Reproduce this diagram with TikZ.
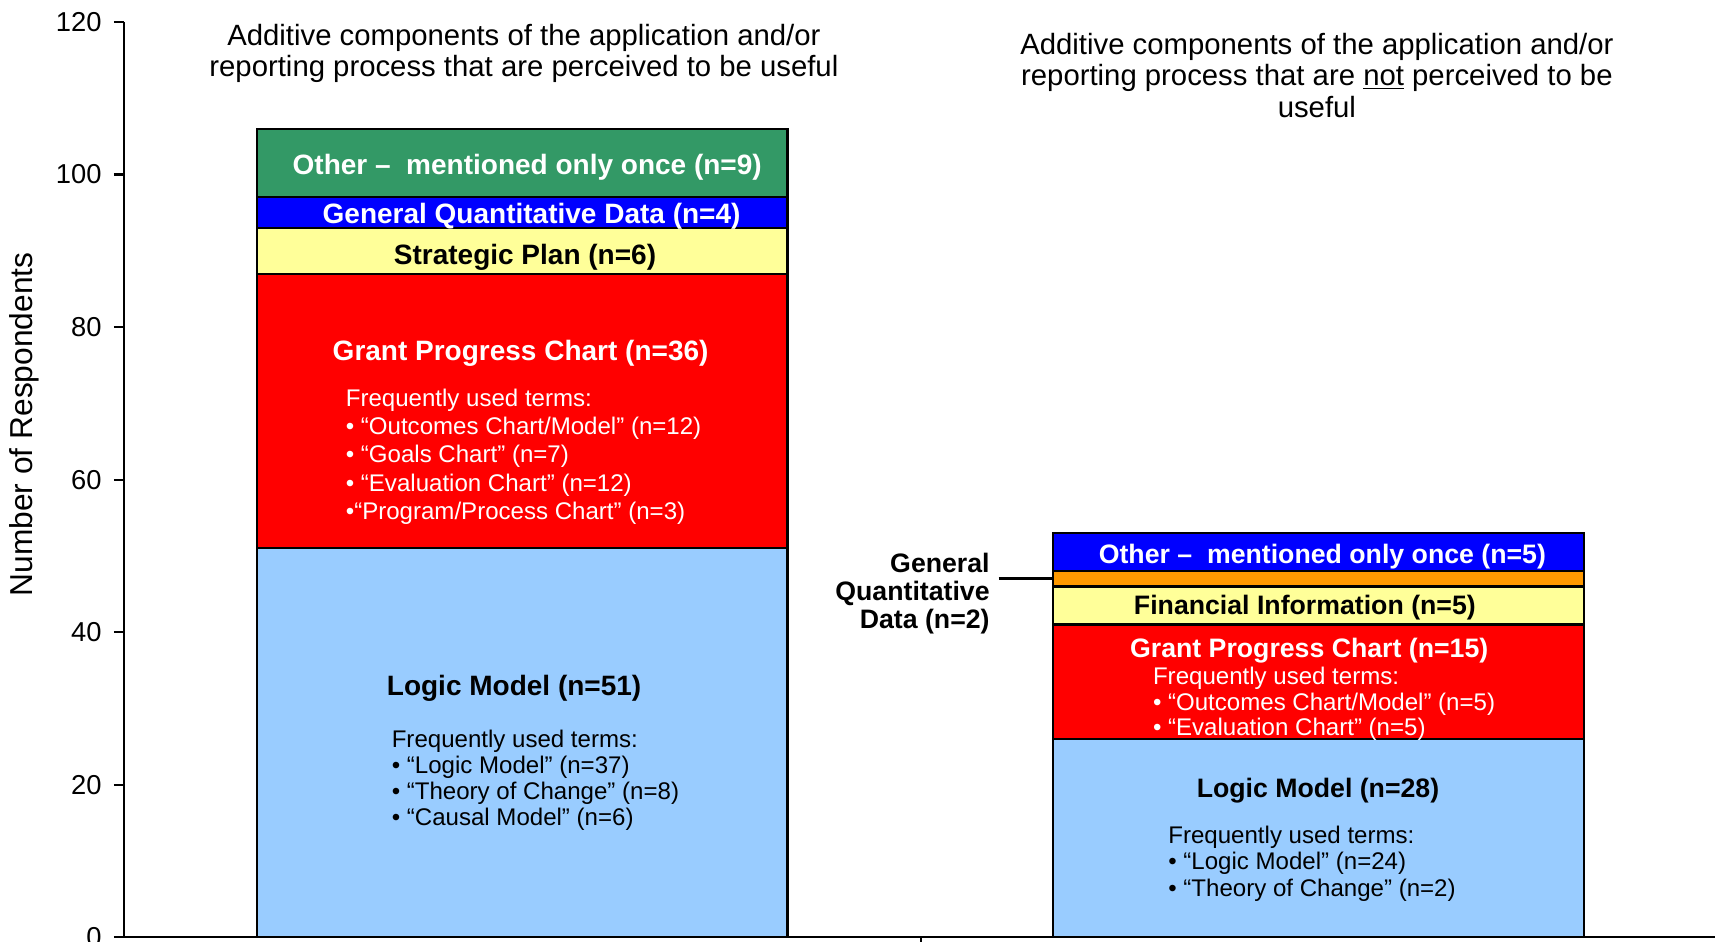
\documentclass[tikz,border=0pt]{standalone}
\usepackage{fontspec}
\setmainfont{Liberation Sans}
\usetikzlibrary{positioning}

\definecolor{segGreen}{RGB}{51,153,102}
\definecolor{segBlue}{RGB}{0,0,255}
\definecolor{segYellow}{RGB}{255,255,153}
\definecolor{segRed}{RGB}{255,0,0}
\definecolor{segLight}{RGB}{153,204,255}
\definecolor{segOrange}{RGB}{255,153,0}

\tikzset{
  seg/.style={draw=black, line width=2pt},
  axis/.style={line width=2pt},
  catlabel/.style={font=\bfseries\fontsize{25.6}{30}\selectfont, inner sep=0pt},
  catlabelsmall/.style={catlabel, font=\bfseries\fontsize{24.4}{29}\selectfont},
  termlist/.style={font=\fontsize{22}{26}\selectfont, align=left, anchor=north west, inner sep=0pt},
  heading/.style={font=\fontsize{26.8}{28.7}\selectfont, align=center, inner sep=0pt}
}

\begin{document}
\begin{tikzpicture}[x=1pt,y=1pt]
\useasboundingbox (0,0) rectangle (1568,861);

% axes (1 data unit = 6.975pt, zero at y=4)
\draw[axis] (113,841) -- (113,4) -- (1568,4);
\draw[axis] (842,4) -- (842,0);
\foreach \v in {0,20,...,120}{
  \draw[axis] (104,4+\v*6.975) -- (113,4+\v*6.975);
  \node[anchor=east, inner sep=0pt, font=\fontsize{25}{30}\selectfont] (tick\v) at (93,4+\v*6.975) {\v};
}
\node[rotate=90, inner sep=0pt, font=\fontsize{29}{34}\selectfont] (ylabel) at (22,473) {Number of Respondents};

% headings
\node[heading] (headUseful) at (479,812) {Additive components of the application and/or\\reporting process that are perceived to be useful};
\node[heading] (headNotUseful) at (1204,792) {Additive components of the application and/or\\reporting process that are \underline{not} perceived to be\\useful};

\begin{scope}[shift={(0,4)}, y=6.975pt]

  % left bar
  \foreach \hi/\col [remember=\hi as \lo (initially 0)] in {51/segLight,87/segRed,93/segYellow,97/segBlue,106/segGreen}
    \draw[seg, fill=\col] (235,\lo) rectangle (720,\hi);

  \node[catlabel, text=white] (otherA) at (482,100.95) {Other --\ \ mentioned only once (n=9)};
  \node[catlabel, text=white] (gqdA) at (486,94.5) {General Quantitative Data (n=4)};
  \node[catlabel] (planA) at (480,89.1) {Strategic Plan (n=6)};
  \node[catlabel, text=white] (grantA) at (476,76.6) {Grant Progress Chart (n=36)};
  \node[termlist, text=white] (grantTermsA) at (316,71.95) {Frequently used terms:\\• “Outcomes Chart/Model” (n=12)\\• “Goals Chart” (n=7)\\• “Evaluation Chart” (n=12)\\•“Program/Process Chart” (n=3)};
  \node[catlabel] (logicA) at (470,32.7) {Logic Model (n=51)};
  \node[termlist, font=\fontsize{22}{23.7}\selectfont] (logicTermsA) at (358,27.15) {Frequently used terms:\\• “Logic Model” (n=37)\\• “Theory of Change” (n=8)\\• “Causal Model” (n=6)};

  % right bar
  \foreach \hi/\col [remember=\hi as \lo (initially 0)] in {26/segLight,41/segRed,46/segYellow,48/segOrange,53/segBlue}
    \draw[seg, fill=\col] (963,\lo) rectangle (1448,\hi);

  \node[catlabelsmall, text=white] (otherB) at (1209,49.9) {Other --\ \ mentioned only once (n=5)};
  \node[catlabelsmall] (finB) at (1193,43.2) {Financial Information (n=5)};
  \node[catlabelsmall, text=white] (grantB) at (1197,37.6) {Grant Progress Chart (n=15)};
  \node[termlist, text=white, font=\fontsize{22}{23.5}\selectfont] (grantTermsB) at (1054,35.45) {Frequently used terms:\\• “Outcomes Chart/Model” (n=5)\\• “Evaluation Chart” (n=5)};
  \node[catlabelsmall] (logicB) at (1205,19.2) {Logic Model (n=28)};
  \node[termlist, font=\fontsize{22}{24}\selectfont] (logicTermsB) at (1068,14.6) {Frequently used terms:\\• “Logic Model” (n=24)\\• “Theory of Change” (n=2)};

  % small segment called out at the side
  \node[catlabel, align=right, anchor=east, font=\bfseries\fontsize{24.4}{25.5}\selectfont] (gqdB) at (905,45.05) {General\\Quantitative\\Data (n=2)};
  \coordinate (orangeB) at (963,47);
  \draw[line width=2.5pt] ([xshift=8pt]gqdB.east |- orangeB) -- (orangeB);

\end{scope}

\end{tikzpicture}
\end{document}
